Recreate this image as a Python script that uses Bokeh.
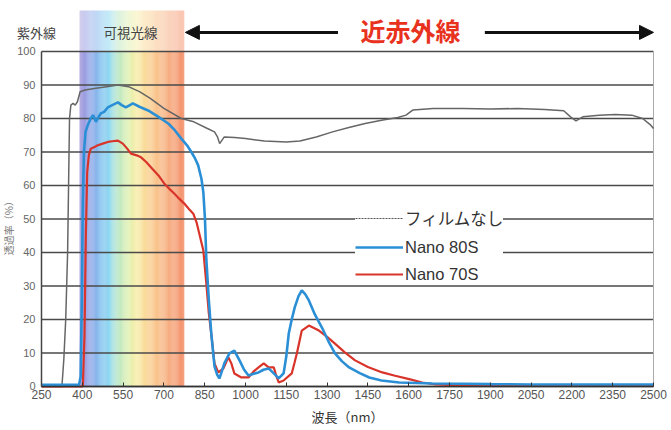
import numpy as np
from bokeh.plotting import figure
from bokeh.models import (Range1d, FixedTicker, Legend, LegendItem, Label, Arrow,
                          NormalHead, LinearAxis)
from bokeh.embed import file_html
from bokeh.resources import INLINE

# ---------------- data ----------------
x_ticks = [250, 400, 550, 700, 850, 1000, 1150, 1300, 1450, 1600, 1750, 1900, 2050, 2200, 2350, 2500]
y_ticks = [0, 10, 20, 30, 40, 50, 60, 70, 80, 90, 100]

wl_none = [250, 325, 332, 339, 346, 353, 358, 366, 374, 382, 392, 410, 450, 490, 530, 570, 610, 650,
           700, 764, 810, 860, 886, 897, 905, 922, 960, 1000, 1070, 1150, 1200, 1260, 1320, 1380,
           1440, 1500, 1560, 1590, 1615, 1690, 1800, 1900, 2000, 2100, 2170, 2195, 2215, 2240,
           2300, 2360, 2420, 2460, 2490, 2500]
t_none = [0, 0, 8, 20, 40, 80, 84, 84.5, 84, 85, 88, 88.5, 89, 89.5, 90, 89.5, 88, 86,
          83, 80, 79, 77, 76, 74.5, 72.5, 74.5, 74.3, 74, 73.3, 73, 73.3, 74.5, 76, 77.3,
          78.5, 79.5, 80.3, 81, 82.5, 83, 83, 82.8, 83, 82.7, 82.3, 80.5, 79.3, 80.5,
          81, 81.2, 81, 80, 78, 77]

wl_80s = [250, 388, 394, 398, 402, 406, 412, 420, 431, 440, 450, 460, 468, 480, 494, 510, 531, 545,
          560, 575, 586, 610, 642, 680, 716, 740, 764, 785, 801, 815, 826, 838, 845, 851, 856, 865,
          874, 886, 896, 904, 913, 922, 941, 959, 978, 995, 1011, 1030, 1048, 1066, 1085, 1104,
          1122, 1140, 1150, 1159, 1170, 1181, 1195, 1207, 1220, 1233, 1255, 1281, 1305, 1329,
          1355, 1381, 1420, 1455, 1500, 1565, 1687, 1800, 1900, 2050, 2200, 2350, 2500]
t_80s = [0.5, 0.5, 3, 25, 55, 70, 76, 78, 80, 81, 79, 80.5, 81.5, 82, 83.3, 84, 84.8, 84,
         83.3, 84, 84.5, 83.5, 82.4, 80.5, 78.5, 76.5, 74, 72, 70, 68, 66, 62, 58, 50, 38, 26,
         16, 6, 3.5, 2.4, 4.5, 6.9, 9.9, 10.7, 7.8, 5, 3.3, 3.8, 4.2, 5, 5.4, 3.9,
         2.4, 3.9, 9, 15.8, 20, 23.6, 27, 28.7, 27.5, 25.7, 21.5, 17.6, 13.5, 9.9,
         7.5, 5.7, 4, 2.7, 1.8, 1.2, 0.9, 0.8, 0.7, 0.6, 0.6, 0.6, 0.6]

wl_70s = [250, 402, 408, 413, 418, 424, 431, 445, 457, 475, 494, 510, 531, 549, 565, 579, 600, 616,
          635, 653, 680, 701, 720, 738, 757, 775, 792, 808, 820, 830, 845, 856, 865, 874, 886,
          900, 919, 937, 948, 959, 985, 1011, 1030, 1048, 1067, 1085, 1104, 1114, 1122, 1140,
          1170, 1180, 1189, 1207, 1233, 1270, 1300, 1329, 1365, 1403, 1450, 1503, 1550, 1602,
          1650, 1700, 1800, 2500]
t_70s = [0, 0, 15, 45, 64, 69, 71, 71.5, 72, 72.5, 73, 73.2, 73.4, 72.5, 71, 69.5, 69, 68.4,
         67, 65.4, 63, 60.6, 59, 57.6, 56, 54.6, 53, 51.6, 49, 45.7, 40.6, 30.7, 22, 15.8, 6.9,
         4.2, 5.4, 8.7, 6.9, 3.9, 2.7, 2.7, 4.5, 5.7, 6.9, 5.7, 5.7, 3, 1.2, 1.8,
         3.9, 7, 9.9, 16.7, 18.2, 16.7, 14.8, 12.8, 10.2, 7.8, 5.8, 4.2, 3.2, 2.2,
         1.2, 0.6, 0.3, 0.3]

series_names = ["フィルムなし", "Nano 80S", "Nano 70S"]

# visible-light band (decoration)
band_wl = [390, 430, 470, 500, 530, 570, 600, 650, 710, 775]
band_colors = ["#8a78d0", "#6f8ee0", "#5fb0ea", "#70d0ee", "#a8e0b8", "#d8ec9a",
               "#f6e890", "#f8c070", "#f59a60", "#f07040"]

# ---------------- figure ----------------
# frame covers the whole canvas; axes are pinned at x=250 / y=0
p = figure(width=667, height=426, x_range=Range1d(99.26, 2551.5), y_range=Range1d(-11.94, 115.22),
           output_backend="svg", toolbar_location=None,
           x_axis_location=None, y_axis_location=None,
           min_border_left=0, min_border_right=0, min_border_top=0, min_border_bottom=0)
p.outline_line_color = None
p.grid.visible = False

# band strips
def hex2rgb(h):
    return [int(h[i:i + 2], 16) for i in (1, 3, 5)]

rgb = np.array([hex2rgb(c) for c in band_colors], dtype=float)
edges = np.linspace(band_wl[0], band_wl[-1], 97)
mids = (edges[:-1] + edges[1:]) / 2
cols = []
for m in mids:
    r, g, b = (int(round(np.interp(m, band_wl, rgb[:, k]))) for k in range(3))
    cols.append("#%02x%02x%02x" % (r, g, b))
p.quad(left=edges[:-1], right=edges[1:], bottom=y_ticks[0], top=y_ticks[-1],
       fill_color=cols, fill_alpha=0.78, line_color=None, level="image")
p.quad(left=edges[:-1], right=edges[1:], bottom=y_ticks[-1], top=112.2,
       fill_color=cols, fill_alpha=0.42, line_color=None, level="image")

# horizontal grid lines between the axis limits
n = len(y_ticks)
p.segment(x0=[x_ticks[0]] * n, x1=[x_ticks[-1]] * n, y0=y_ticks, y1=y_ticks,
          line_color="#4a4a4a", line_width=1.3, level="underlay")
# right border
p.segment(x0=[x_ticks[-1]], x1=[x_ticks[-1]], y0=[y_ticks[0]], y1=[y_ticks[-1]],
          line_color="#aaaaaa", line_width=1, level="underlay")

# curves
r_none = p.line(wl_none, t_none, line_color="#666666", line_width=1.5)
r_70 = p.line(wl_70s, t_70s, line_color="#d8342a", line_width=2.2)
r_80 = p.line(wl_80s, t_80s, line_color="#2b8fd6", line_width=2.6)
proxy = p.line(x=[np.nan], y=[np.nan], line_color="#555555", line_width=1.2, line_dash="2 1")

legend = Legend(items=[LegendItem(label=series_names[0], renderers=[proxy]),
                       LegendItem(label=series_names[1], renderers=[r_80]),
                       LegendItem(label=series_names[2], renderers=[r_70])],
                location=(355, 142))
legend.background_fill_color = "white"
legend.background_fill_alpha = 1
legend.border_line_color = None
legend.padding = 5
legend.spacing = 7
legend.label_height = 20
legend.glyph_height = 20
legend.glyph_width = 48
legend.label_standoff = 2
legend.margin = 0
legend.label_text_font_size = "16.5px"
legend.label_text_color = "#333333"
legend.label_text_font = "Liberation Sans, Noto Sans CJK JP"
p.add_layout(legend)

# axes (pinned)
xaxis = LinearAxis(fixed_location=y_ticks[0], bounds=(x_ticks[0], x_ticks[-1]),
                   ticker=FixedTicker(ticks=x_ticks))
xaxis.axis_label = "波長（nm）"
xaxis.axis_label_text_font = "Noto Sans CJK JP"
xaxis.axis_label_text_font_style = "normal"
xaxis.axis_label_text_font_size = "13px"
xaxis.axis_label_text_color = "#333333"
xaxis.axis_label_standoff = 4
xaxis.major_label_text_font_size = "12px"
xaxis.major_label_text_color = "#555555"
xaxis.major_label_text_font = "Liberation Sans"
xaxis.major_label_standoff = 4
xaxis.axis_line_color = "#333333"
xaxis.axis_line_width = 1.5
xaxis.major_tick_in = 4
xaxis.major_tick_out = 0
xaxis.major_tick_line_color = "#333333"
xaxis.minor_tick_line_color = None
p.add_layout(xaxis, "below")

yaxis = LinearAxis(fixed_location=x_ticks[0], bounds=(y_ticks[0], y_ticks[-1]),
                   ticker=FixedTicker(ticks=y_ticks))
yaxis.axis_line_color = "#444444"
yaxis.axis_line_width = 1.5
yaxis.major_tick_in = 0
yaxis.major_tick_out = 0
yaxis.minor_tick_line_color = None
yaxis.major_label_text_font_size = "11px"
yaxis.major_label_text_color = "#666666"
yaxis.major_label_text_font = "Liberation Sans"
yaxis.major_label_standoff = 6
p.add_layout(yaxis, "left")

# header annotations
p.add_layout(Label(x=232, y=105.7, text="紫外線", text_font="Noto Sans CJK JP",
                   text_font_size="13px", text_color="#444444",
                   text_align="center", text_baseline="middle"))
p.add_layout(Label(x=577, y=105.7, text="可視光線", text_font="Noto Sans CJK JP",
                   text_font_size="13.5px", text_color="#444444",
                   text_align="center", text_baseline="middle"))
p.add_layout(Label(x=1607, y=106.3, text="近赤外線", text_font="Noto Sans CJK JP",
                   text_font_size="25px", text_font_style="bold", text_color="#e8321e",
                   text_align="center", text_baseline="middle"))
p.add_layout(Arrow(end=NormalHead(size=14, fill_color="#111111", line_color="#111111"),
                   x_start=1340, y_start=105.7, x_end=779, y_end=105.7,
                   line_color="#111111", line_width=3))
p.add_layout(Arrow(end=NormalHead(size=14, fill_color="#111111", line_color="#111111"),
                   x_start=1880, y_start=105.7, x_end=2500, y_end=105.7,
                   line_color="#111111", line_width=3))
p.add_layout(Label(x=128, y=48, text="透過率（%）", text_font="Noto Sans CJK JP",
                   text_font_size="10px", text_color="#777777", angle=np.pi / 2,
                   text_align="center", text_baseline="middle"))

open("out.html", "w").write(file_html(p, INLINE))
